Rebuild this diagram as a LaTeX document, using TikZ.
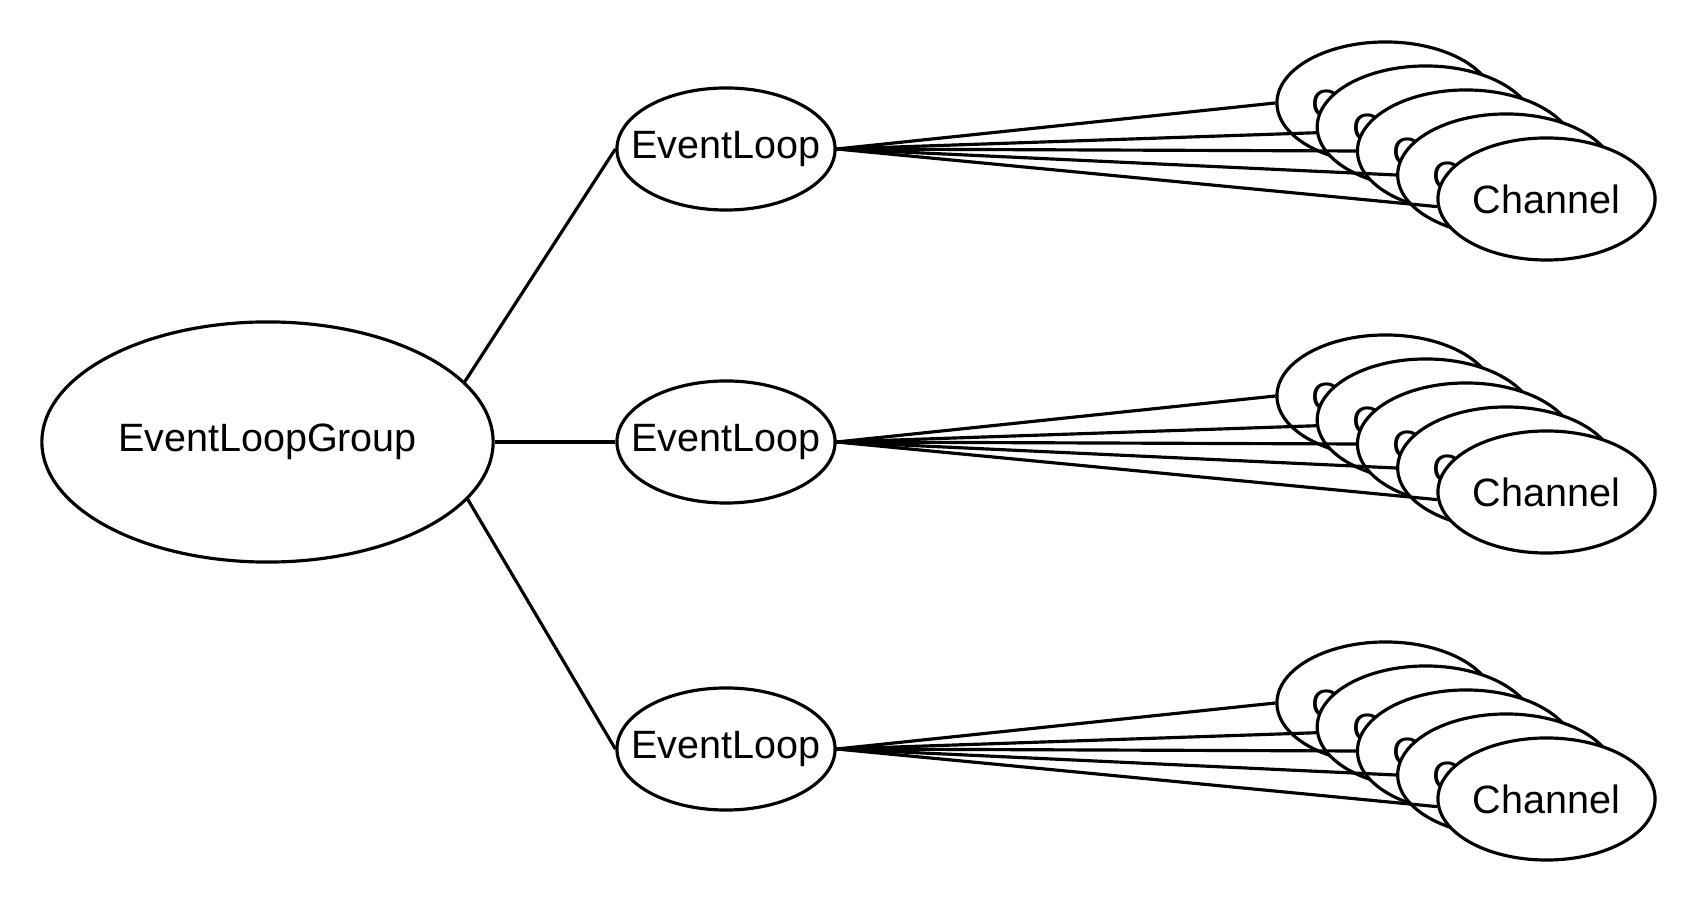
\documentclass[tikz,border=0pt]{standalone}
\usepackage{fontspec}
\setmainfont{Liberation Sans}
\usetikzlibrary{shapes.geometric}
\pgfdeclarelayer{a1}\pgfdeclarelayer{b1}
\pgfdeclarelayer{a2}\pgfdeclarelayer{b2}
\pgfdeclarelayer{a3}\pgfdeclarelayer{b3}
\pgfdeclarelayer{a4}\pgfdeclarelayer{b4}
\pgfdeclarelayer{a5}\pgfdeclarelayer{b5}
\pgfsetlayers{a1,b1,a2,b2,a3,b3,a4,b4,a5,b5,main}
\begin{document}
\begin{tikzpicture}[x=0.01cm,y=-0.01cm,line width=0.9pt,
  txt/.style={font=\fontsize{11.24}{13}\selectfont,inner sep=0pt},
  oval/.style={ellipse,draw=black,fill=white,line width=0.9pt,inner sep=0pt},
  grp/.style={oval,minimum width=4.51cm,minimum height=2.40cm,label={[txt]center:#1}},
  loopnode/.style={oval,minimum width=2.18cm,minimum height=1.22cm,label={[txt]center:#1}},
  chan/.style={oval,minimum width=2.17cm,minimum height=1.22cm,label={[txt]center:#1}},
  link/.style={draw=black,line width=0.9pt}]
\useasboundingbox (0,0) rectangle (1700,904);
\node[grp=EventLoopGroup] (elg) at (267.5,442) {};
\foreach \k/\yy in {1/149,2/442,3/749}{
  \node[loopnode=EventLoop] (el\k) at (726,\yy) {};
  \foreach \i in {1,...,5}{
    \begin{pgfonlayer}{b\i}
      \node[chan=Channel] (ch\k-\i) at ({1385.5+40.25*(\i-1)},{\yy-46+24*(\i-1)}) {};
    \end{pgfonlayer}
  }
  \foreach \i/\a in {1/180,2/183,3/180,4/180,5/184}{
    \begin{pgfonlayer}{a\i}
      \draw[link] (el\k.east) -- (ch\k-\i.\a);
    \end{pgfonlayer}
  }
}
\draw[link] (elg.17) -- (el1.west);
\draw[link] (elg.east) -- (el2.west);
\draw[link] (elg.-16) -- (el3.west);
\end{tikzpicture}
\end{document}
